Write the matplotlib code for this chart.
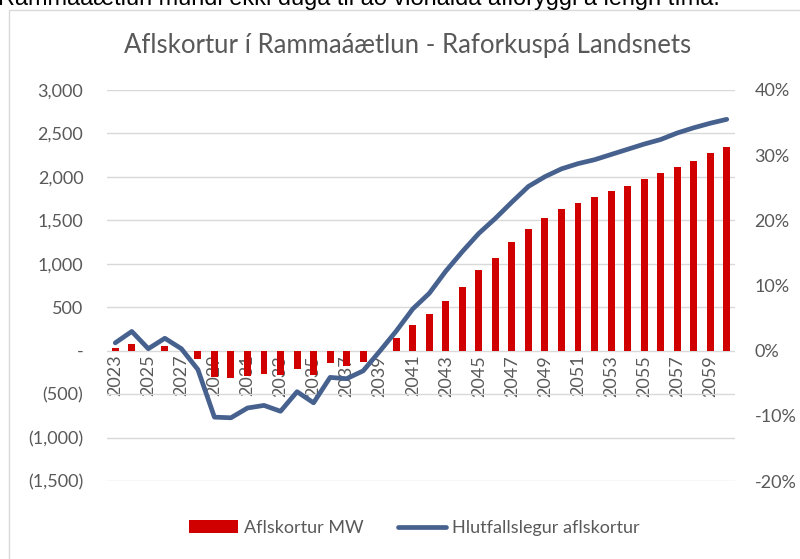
import matplotlib
matplotlib.use('Agg')
import matplotlib.pyplot as plt
from matplotlib.patches import Patch, Rectangle
from matplotlib.lines import Line2D
from matplotlib.ticker import FuncFormatter, MultipleLocator

# Data
years = list(range(2023, 2061))
shortfall_mw = [30, 80, 0, 50, 0, -92, -300, -320, -290, -265,
                -285, -215, -280, -145, -180, -128, 0, 150, 292, 418,
                575, 736, 924, 1069, 1249, 1395, 1525, 1630, 1700, 1765,
                1834, 1900, 1976, 2045, 2114, 2186, 2270, 2340]
shortfall_pct = [1.2, 2.95, 0.3, 1.9, 0.3, -2.9, -10.2, -10.3, -8.8, -8.4,
                 -9.3, -6.3, -8.0, -4.1, -4.3, -3.1, -0.1, 3.0, 6.4, 8.8,
                 12.2, 15.2, 18.0, 20.3, 22.8, 25.2, 26.7, 27.9, 28.7, 29.3,
                 30.1, 30.9, 31.7, 32.4, 33.4, 34.2, 34.9, 35.5]
tick_years = years[::2]

title = 'Aflskortur í Rammaáætlun - Raforkuspá Landsnets'
bar_label = 'Aflskortur MW'
line_label = 'Hlutfallslegur aflskortur'
top_text = 'Rammaáætlun mundi ekki duga til að viðhalda aflöryggi á lengri tíma.'

GREY = '#595959'
RED = '#D00000'
BLUE = '#47618F'

plt.rcParams['font.family'] = ['Lato', 'DejaVu Sans']

fig = plt.figure(figsize=(8, 5.59), dpi=100)
W, H = 800, 559

# Chart frame (Excel-like border) and the sentence above it, cut by the top edge
fig.patches.append(Rectangle((9 / W, -0.05), 1.0, 1 - 10 / H + 0.05,
                             transform=fig.transFigure, fill=False,
                             edgecolor='#D9D9D9', linewidth=1.0))
fig.text(-0.002, 1 - 5 / H, top_text, va='baseline', ha='left',
         fontsize=16.9, family='Liberation Sans', color='black')

ax = fig.add_axes([107 / W, 1 - 481 / H, (735 - 107) / W, (481 - 90) / H])
ax2 = ax.twinx()

ax.bar(years, shortfall_mw, width=0.42, color=RED, zorder=2)
ax2.plot(years, [p / 100 for p in shortfall_pct], color=BLUE, linewidth=3.4,
         solid_joinstyle='round', solid_capstyle='round', zorder=3)

ax.set_xlim(2022.5, 2060.5)
ax.set_ylim(-1500, 3000)
ax2.set_ylim(-0.2, 0.4)
ax.yaxis.set_major_locator(MultipleLocator(500))
ax2.yaxis.set_major_locator(MultipleLocator(0.1))


def accounting(v, pos):
    if abs(v) < 1e-9:
        return '-'
    if v < 0:
        return '({:,.0f})'.format(-v)
    return '{:,.0f}'.format(v)


ax.yaxis.set_major_formatter(FuncFormatter(accounting))
ax2.yaxis.set_major_formatter(FuncFormatter(lambda v, pos: '{:.0f}%'.format(v * 100)))

ax.grid(axis='y', color='#D9D9D9', linewidth=1.0, zorder=0)
ax.set_axisbelow(True)

# Category labels sit on the zero line
ax.spines['bottom'].set_position(('data', 0))
for a in (ax, ax2):
    for s in a.spines.values():
        s.set_visible(False)

ax.set_xticks(tick_years)
ax.set_xticklabels([str(y) for y in tick_years])
ax.tick_params(axis='x', length=0, pad=3, rotation=90, labelsize=13, labelcolor=GREY)
ax.tick_params(axis='y', length=0, pad=17, labelsize=13, labelcolor=GREY)
ax2.tick_params(axis='y', length=0, pad=14, labelsize=13, labelcolor=GREY)

fig.text(0.509, 1 - 45 / H, title, ha='center', va='center', fontsize=18.5, color=GREY)

handles = [Patch(facecolor=RED, edgecolor='none'),
           Line2D([0], [0], color=BLUE, linewidth=3.4, solid_capstyle='round')]
fig.legend(handles, [bar_label, line_label], loc='center',
           bbox_to_anchor=(0.518, 1 - 528 / H), ncol=2, frameon=False,
           fontsize=13, labelcolor=GREY, handlelength=2.7, handletextpad=0.3,
           columnspacing=1.9)

fig.savefig('out.png', dpi=100)
